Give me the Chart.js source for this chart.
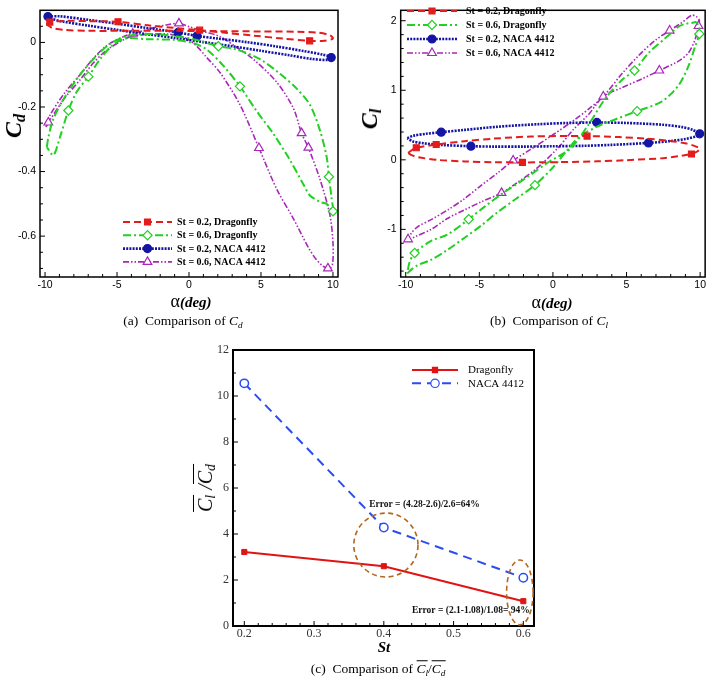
<!DOCTYPE html>
<html lang="en">
<head>
<meta charset="UTF-8">
<title>Cd, Cl and Cl/Cd - Dragonfly vs NACA 4412</title>
<script src="https://cdn.jsdelivr.net/npm/chart.js"></script>
<style>
    body {
        margin: 0;
        background: #fff;
    }

    #fig {
        position: relative;
        width: 708px;
        height: 677px;
        overflow: hidden;
        font-family: "Liberation Serif", "Times New Roman", serif;
        color: #000;
    }

    #fig canvas {
        position: absolute;
    }

    .lbl {
        position: absolute;
        white-space: nowrap;
        line-height: 1;
        transform: translate(-50%, -50%);
    }

    .rot {
        transform: translate(-50%, -50%) rotate(-90deg);
    }

    .lbl sub {
        font-size: 68%;
        vertical-align: -0.25em;
        line-height: 0;
    }

    .ov {
        display: inline-block;
        border-top: 1.2px solid #000;
        padding-top: 1px;
        line-height: 1;
    }

    .cap { font-size: 13.5px; }
    .axt { font-weight: bold; font-style: italic; }
</style>
</head>
<body>

<div id="fig">
    <canvas id="cdChart" width="345" height="300" style="left:0;top:0"></canvas>
    <canvas id="clChart" width="354" height="300" style="left:354px;top:0"></canvas>
    <canvas id="ratioChart" width="360" height="320" style="left:190px;top:330px"></canvas>

    <!-- axis titles and captions -->
    <div class="lbl rot axt" style="left:13px;top:126px;font-size:24px">C<sub>d</sub></div>
    <div class="lbl axt" style="left:191px;top:301px;font-size:15px"><span style="font-weight:normal;font-style:normal;font-size:18px">α</span>(deg)</div>
    <div class="lbl cap" style="left:183px;top:321px">(a)&nbsp; Comparison of <i>C<sub>d</sub></i></div>

    <div class="lbl rot axt" style="left:369px;top:119px;font-size:24px">C<sub>l</sub></div>
    <div class="lbl axt" style="left:552px;top:302px;font-size:15px"><span style="font-weight:normal;font-style:normal;font-size:18px">α</span>(deg)</div>
    <div class="lbl cap" style="left:549px;top:321px">(b)&nbsp; Comparison of <i>C<sub>l</sub></i></div>

    <div class="lbl rot" style="left:204px;top:488px;font-size:20px;font-style:italic"><span class="ov">C<sub>l</sub></span> /<span class="ov">C<sub>d</sub></span></div>
    <div class="lbl axt" style="left:384px;top:647px;font-size:15px">St</div>
    <div class="lbl cap" style="left:378px;top:668px">(c)&nbsp; Comparison of <span class="ov"><i>C<sub>l</sub></i></span>/<span class="ov"><i>C<sub>d</sub></i></span></div>
</div>

<script>
    // Tick labels
    const alphaTicks = [-10, -5, 0, 5, 10];
    const cdTicks = [-0.6, -0.4, -0.2, 0];
    const clTicks = [-1, 0, 1, 2];
    const stTicks = [0.2, 0.3, 0.4, 0.5, 0.6];
    const ratioTicks = [0, 2, 4, 6, 8, 10, 12];

    const loopNames = ['St = 0.2, Dragonfly', 'St = 0.6, Dragonfly', 'St = 0.2, NACA 4412', 'St = 0.6, NACA 4412'];

    // (a) drag coefficient loops, [alpha, Cd]
    const cdDfly02 = [[-9.9, 0.056], [-9.67, 0.063], [-8.5, 0.067], [-7, 0.066], [-4.93, 0.064], [-2.85, 0.053], [-1, 0.045],
        [0.74, 0.038], [2.5, 0.030], [4.5, 0.021], [6.5, 0.012], [8.38, 0.005], [9.4, 0.005], [10.0, 0.012], [9.8, 0.022],
        [9.0, 0.030], [7.5, 0.033], [5, 0.034], [2, 0.035], [-1, 0.036], [-4, 0.036], [-7, 0.036], [-8.7, 0.039],
        [-9.5, 0.045], [-9.9, 0.056]];
    const cdDfly06 = [[-9.88, -0.324], [-9.75, -0.29], [-9.45, -0.24], [-8.9, -0.19], [-8.2, -0.14], [-7.4, -0.09],
        [-6.5, -0.045], [-5.6, -0.008], [-4.7, 0.014], [-3.8, 0.024], [-2.5, 0.026], [-1, 0.02], [0.5, 0.008], [2.04, -0.012],
        [3.31, -0.022], [4.93, -0.052], [6.32, -0.097], [7.48, -0.143], [8.40, -0.193], [9.10, -0.273], [9.56, -0.354],
        [9.72, -0.416], [9.91, -0.484], [10.0, -0.523], [9.56, -0.50], [9.10, -0.494], [8.40, -0.474], [7.94, -0.439],
        [7.01, -0.364], [5.86, -0.283], [4.70, -0.213], [3.54, -0.136], [2.38, -0.072], [1.23, -0.022], [0.3, -0.002],
        [-1.09, 0.008], [-2.94, 0.010], [-4.33, 0.013], [-5.26, -0.007], [-6.18, -0.052], [-6.99, -0.106], [-7.80, -0.153],
        [-8.38, -0.211], [-8.96, -0.293], [-9.42, -0.349], [-9.88, -0.324]];
    const cdNaca02 = [[-9.8, 0.080], [-9, 0.081], [-7, 0.070], [-5, 0.058], [-3, 0.045], [-0.76, 0.031], [0.56, 0.020],
        [2, 0.012], [4, 0.001], [6, -0.012], [8, -0.027], [9.3, -0.038], [9.88, -0.047], [9.6, -0.054], [8.5, -0.051],
        [7, -0.040], [5, -0.026], [3, -0.012], [1, 0.001], [-1, 0.014], [-3, 0.026], [-5, 0.039], [-7, 0.052],
        [-8.8, 0.065], [-9.6, 0.074], [-9.8, 0.080]];
    const cdNaca06 = [[-9.93, -0.262], [-9.65, -0.225], [-8.61, -0.155], [-7.57, -0.100], [-6.65, -0.050], [-5.72, -0.010],
        [-4.56, 0.018], [-3.91, 0.027], [-2.5, 0.045], [-1.5, 0.055], [-0.7, 0.059], [0.07, 0.048], [1.0, 0.034],
        [2.15, 0.018], [3.3, -0.015], [4.47, -0.052], [6.09, -0.123], [7.24, -0.203], [7.82, -0.281], [8.29, -0.326],
        [9.10, -0.424], [9.79, -0.535], [10.0, -0.62], [9.98, -0.685], [9.8, -0.70], [9.65, -0.70], [9.3, -0.693],
        [8.8, -0.67], [8.29, -0.635], [7.24, -0.545], [6.09, -0.454], [4.86, -0.327], [3.54, -0.193], [2.15, -0.093],
        [1.2, -0.045], [0.5, -0.01], [-0.3, 0.015], [-1.5, 0.026], [-3, 0.024], [-3.91, 0.020], [-4.56, 0.008],
        [-5.72, -0.024], [-6.65, -0.064], [-7.57, -0.116], [-8.61, -0.171], [-9.77, -0.248], [-9.93, -0.262]];
    const cdMarks = [[1, 4, 7, 11], [13, 21, 23, 31, 40, 42], [0, 5, 6, 12], [7, 10, 18, 19, 25, 31, 45]];

    // (b) lift coefficient loops, [alpha, Cl]
    const clDfly02 = [[-9.84, 0.10], [-9.5, 0.152], [-9.28, 0.173], [-7.93, 0.22], [-6, 0.268], [-4, 0.305], [-1.5, 0.335],
        [2.32, 0.341], [4.5, 0.327], [6.4, 0.304], [8, 0.27], [9.07, 0.234], [9.6, 0.2], [9.97, 0.16], [9.8, 0.12],
        [9.41, 0.084], [8.5, 0.05], [7.5, 0.024], [5, -0.005], [3, -0.022], [0.5, -0.033], [-2.07, -0.037], [-4, -0.034],
        [-6, -0.023], [-7.8, -0.002], [-9.17, 0.038], [-9.6, 0.068], [-9.84, 0.10]];
    const clDfly06 = [[-9.89, -1.634], [-9.6, -1.575], [-9.21, -1.517], [-8.3, -1.44], [-7.2, -1.30], [-6.0, -1.12],
        [-4.9, -0.95], [-3.8, -0.76], [-2.5, -0.56], [-1.22, -0.364], [0, -0.11], [0.9, 0.12], [1.78, 0.328], [3.13, 0.49],
        [4.26, 0.584], [5.72, 0.70], [7.41, 0.84], [8.53, 1.07], [9.21, 1.35], [9.66, 1.63], [9.95, 1.81], [9.92, 1.92],
        [9.7, 1.98], [9.48, 1.97], [8.99, 1.955], [8.53, 1.915], [7.64, 1.75], [6.51, 1.54], [5.54, 1.284], [4.70, 1.15],
        [3.58, 0.888], [2.4, 0.5], [1.19, 0.164], [-0.39, -0.046], [-1.96, -0.28], [-3.31, -0.466], [-4.66, -0.676],
        [-5.72, -0.854], [-7.14, -1.073], [-8.27, -1.167], [-9.39, -1.34], [-9.75, -1.48], [-9.89, -1.634]];
    const clNaca02 = [[-9.89, 0.31], [-9.5, 0.345], [-8.6, 0.375], [-7.59, 0.397], [-6, 0.43], [-3.76, 0.476], [-1, 0.512],
        [1, 0.53], [2.99, 0.537], [5, 0.53], [7.5, 0.504], [8.8, 0.47], [9.5, 0.43], [9.97, 0.374], [9.75, 0.34],
        [9.0, 0.30], [8, 0.27], [6.49, 0.243], [4, 0.215], [2, 0.201], [0, 0.195], [-2, 0.19], [-4, 0.19], [-5.57, 0.196],
        [-7.5, 0.213], [-8.8, 0.238], [-9.5, 0.265], [-9.89, 0.31]];
    const clNaca06 = [[-9.96, -1.17], [-9.84, -1.143], [-9.6, -1.05], [-9.17, -0.96], [-8.27, -0.86], [-7.14, -0.72],
        [-6.01, -0.56], [-4.89, -0.37], [-3.76, -0.19], [-2.70, -0.01], [-1.51, 0.15], [0, 0.36], [1.5, 0.58], [2.6, 0.76],
        [3.42, 0.91], [4.70, 1.24], [5.83, 1.50], [6.96, 1.72], [7.93, 1.859], [8.6, 1.95], [9.1, 2.03], [9.43, 2.08],
        [9.75, 2.06], [9.95, 2.0], [9.89, 1.924], [9.66, 1.73], [9.21, 1.54], [8.53, 1.42], [7.23, 1.284], [6, 1.16],
        [4.6, 1.03], [3.42, 0.91], [2.45, 0.66], [1.32, 0.42], [0.43, 0.19], [-1.06, -0.116], [-2.41, -0.326],
        [-3.49, -0.476], [-4.89, -0.606], [-6, -0.72], [-7.14, -0.84], [-8.27, -1.0], [-9.3, -1.1], [-9.96, -1.17]];
    const clMarks = [[2, 3, 7, 15, 21], [9, 15, 20, 28, 37, 40], [3, 8, 13, 17, 23], [1, 9, 14, 18, 24, 28, 37]];

    // (c) mean Cl / mean Cd against Strouhal number
    const stValues = [0.2, 0.4, 0.6];
    const ratioDfly = [3.22, 2.6, 1.08];
    const ratioNaca = [10.55, 4.28, 2.1];

    const loopStyle = [
        { color: '#e31c1c', dash: [7, 4], width: 2, shape: 'rect', r: 4.2, fill: true },
        { color: '#22d022', dash: [8, 3, 2, 3], width: 2, shape: 'rectRot', r: 4.6, fill: false },
        { color: '#1515a5', dash: [2, 1.2], width: 2.6, shape: 'circle', r: 4, fill: true },
        { color: '#a826b8', dash: [6, 2, 1.5, 2, 1.5, 2], width: 1.6, shape: 'triangle', r: 5, fill: false }
    ];

    const serif = '"Liberation Serif", "Times New Roman", serif';
    const sans = '"Liberation Sans", Arial, sans-serif';

    function loopSets(loops, marks) {
        return loops.map((pts, i) => {
            const s = loopStyle[i];
            return {
                label: loopNames[i],
                data: pts.map(p => ({ x: p[0], y: p[1] })),
                showLine: true,
                tension: 0.3,
                borderColor: s.color,
                borderWidth: s.width,
                borderDash: s.dash,
                pointStyle: s.shape,
                pointRadius: ctx => marks[i].includes(ctx.dataIndex) ? s.r : 0,
                pointBackgroundColor: s.fill ? s.color : '#fff',
                pointBorderColor: s.color,
                pointBorderWidth: 1.2
            };
        });
    }

    function drawMark(ctx, shape, x, y, r, color, fill) {
        ctx.beginPath();
        if (shape === 'circle') {
            ctx.arc(x, y, r, 0, Math.PI * 2);
        } else if (shape === 'rect') {
            const h = r * Math.SQRT1_2;
            ctx.rect(x - h, y - h, 2 * h, 2 * h);
        } else if (shape === 'rectRot') {
            ctx.moveTo(x - r, y); ctx.lineTo(x, y - r); ctx.lineTo(x + r, y); ctx.lineTo(x, y + r); ctx.closePath();
        } else {
            ctx.moveTo(x, y - r); ctx.lineTo(x + r * 0.866, y + r * 0.5); ctx.lineTo(x - r * 0.866, y + r * 0.5); ctx.closePath();
        }
        ctx.setLineDash([]);
        ctx.fillStyle = fill ? color : '#fff';
        ctx.fill();
        ctx.strokeStyle = color;
        ctx.lineWidth = 1.2;
        ctx.stroke();
    }

    function tickRun(lo, hi, step) {
        const out = [];
        for (let k = Math.ceil(lo / step - 1e-9); k * step <= hi + 1e-9; k++) out.push(k * step);
        return out;
    }

    // inward ticks, frame, legend and notes
    function makeDecor(cfg) {
        return {
            id: 'decor',
            afterDatasetsDraw(chart) {
                const { ctx, chartArea: a, scales: { x, y } } = chart;
                ctx.save();
                ctx.strokeStyle = '#000';
                ctx.lineWidth = 1;
                ctx.setLineDash([]);
                const isMajor = (list, v) => list.some(t => Math.abs(t - v) < 1e-6);
                ctx.beginPath();
                tickRun(x.min, x.max, cfg.xMinor).forEach(v => {
                    const px = x.getPixelForValue(v);
                    ctx.moveTo(px, a.bottom);
                    ctx.lineTo(px, a.bottom - (isMajor(cfg.xMajor, v) ? 5 : 3));
                });
                tickRun(y.min, y.max, cfg.yMinor).forEach(v => {
                    const py = y.getPixelForValue(v);
                    ctx.moveTo(a.left, py);
                    ctx.lineTo(a.left + (isMajor(cfg.yMajor, v) ? 5 : 3), py);
                });
                ctx.stroke();

                ctx.lineWidth = cfg.frame;
                ctx.strokeRect(a.left, a.top, a.right - a.left, a.bottom - a.top);

                if (cfg.ellipses) {
                    ctx.strokeStyle = '#b5651d';
                    ctx.lineWidth = 1.6;
                    ctx.setLineDash([5, 3.5]);
                    cfg.ellipses.forEach(e => {
                        const cx = x.getPixelForValue(e.st), cy = y.getPixelForValue(e.v);
                        const rx = Math.abs(x.getPixelForValue(e.st + e.dst) - cx);
                        const ry = Math.abs(y.getPixelForValue(e.v + e.dv) - cy);
                        ctx.beginPath();
                        ctx.ellipse(cx, cy, rx, ry, 0, 0, Math.PI * 2);
                        ctx.stroke();
                    });
                    ctx.setLineDash([]);
                }
                if (cfg.notes) {
                    ctx.fillStyle = '#111';
                    ctx.font = 'bold 9.5px ' + serif;
                    ctx.textAlign = 'left';
                    ctx.textBaseline = 'middle';
                    cfg.notes.forEach(n => ctx.fillText(n.text, x.getPixelForValue(n.st), y.getPixelForValue(n.v)));
                }

                const k = cfg.key;
                chart.data.datasets.forEach((ds, i) => {
                    const ly = k.y0 + i * k.dy;
                    ctx.beginPath();
                    ctx.setLineDash(ds.borderDash || []);
                    ctx.strokeStyle = ds.borderColor;
                    ctx.lineWidth = ds.borderWidth;
                    ctx.moveTo(k.x0, ly);
                    ctx.lineTo(k.x1, ly);
                    ctx.stroke();
                    drawMark(ctx, ds.pointStyle, (k.x0 + k.x1) / 2, ly, k.marks[i].r, ds.borderColor, k.marks[i].fill);
                    ctx.fillStyle = '#000';
                    ctx.font = k.font;
                    ctx.textAlign = 'left';
                    ctx.textBaseline = 'middle';
                    ctx.fillText(ds.label, k.tx, ly + 0.5);
                });
                ctx.restore();
            }
        };
    }

    function linAxis(min, max, ticks, fmt, size, isX, font, color, pad) {
        return {
            type: 'linear',
            min: min,
            max: max,
            grid: { display: false, drawTicks: false },
            border: { display: false },
            afterBuildTicks: s => { s.ticks = ticks.map(v => ({ value: v })); },
            afterFit: s => { if (isX) s.height = size; else s.width = size; },
            ticks: { padding: pad, font: font, color: color, autoSkip: false, maxRotation: 0, callback: fmt }
        };
    }

    const tickFontAB = { family: sans, size: 10.5 };
    const loopKeyMarks = loopStyle.map(s => ({ r: s.r, fill: s.fill }));

    // (a) Cd
    new Chart(document.getElementById('cdChart'), {
        type: 'scatter',
        data: { datasets: loopSets([cdDfly02, cdDfly06, cdNaca02, cdNaca06], cdMarks) },
        options: {
            responsive: false, animation: false, events: [],
            layout: { padding: { top: 3, right: 7, left: 0, bottom: 0 } },
            plugins: { legend: { display: false }, tooltip: { enabled: false } },
            scales: {
                x: linAxis(-10.35, 10.35, alphaTicks, v => String(v), 23, true, tickFontAB, '#000', 2),
                y: linAxis(-0.7266, 0.0995, cdTicks, v => v === 0 ? '0' : v.toFixed(1), 40, false, tickFontAB, '#000', 4)
            }
        },
        plugins: [makeDecor({
            xMinor: 1, yMinor: 0.05, xMajor: alphaTicks, yMajor: cdTicks, frame: 1.5,
            key: { x0: 123, x1: 172, tx: 177, y0: 222, dy: 13.3, font: 'bold 10px ' + serif, marks: loopKeyMarks }
        })]
    });

    // (b) Cl
    new Chart(document.getElementById('clChart'), {
        type: 'scatter',
        data: { datasets: loopSets([clDfly02, clDfly06, clNaca02, clNaca06], clMarks) },
        options: {
            responsive: false, animation: false, events: [],
            layout: { padding: { top: 3, right: 1.5, left: 0, bottom: 0 } },
            plugins: { legend: { display: false }, tooltip: { enabled: false } },
            scales: {
                x: linAxis(-10.34, 10.34, alphaTicks, v => String(v), 23, true, tickFontAB, '#000', 2),
                y: linAxis(-1.685, 2.15, clTicks, v => String(v), 46.7, false, tickFontAB, '#000', 4)
            }
        },
        plugins: [makeDecor({
            xMinor: 1, yMinor: 0.2, xMajor: alphaTicks, yMajor: clTicks, frame: 1.5,
            key: { x0: 53, x1: 103, tx: 112, y0: 11, dy: 14, font: 'bold 10px ' + serif, marks: loopKeyMarks }
        })]
    });

    // (c) Cl/Cd ratio
    const tickFontC = { family: serif, size: 12 };
    new Chart(document.getElementById('ratioChart'), {
        type: 'scatter',
        data: {
            datasets: [
                {
                    label: 'Dragonfly',
                    data: stValues.map((s, i) => ({ x: s, y: ratioDfly[i] })),
                    showLine: true, borderColor: '#e01414', borderWidth: 2, borderDash: [],
                    pointStyle: 'rect', pointRadius: 3.6, pointBackgroundColor: '#e01414',
                    pointBorderColor: '#e01414', pointBorderWidth: 1
                },
                {
                    label: 'NACA 4412',
                    data: stValues.map((s, i) => ({ x: s, y: ratioNaca[i] })),
                    showLine: true, borderColor: '#2a4cf0', borderWidth: 2, borderDash: [9, 6],
                    pointStyle: 'circle', pointRadius: 4.2, pointBackgroundColor: '#fff',
                    pointBorderColor: '#2a4cf0', pointBorderWidth: 1.5
                }
            ]
        },
        options: {
            responsive: false, animation: false, events: [],
            layout: { padding: { top: 20, right: 16, left: 0, bottom: 0 } },
            plugins: { legend: { display: false }, tooltip: { enabled: false } },
            scales: {
                x: linAxis(0.1838, 0.6153, stTicks, v => v.toFixed(1), 24, true, tickFontC, '#333', 1),
                y: linAxis(0, 12, ratioTicks, v => String(v), 43, false, tickFontC, '#333', 4)
            }
        },
        plugins: [makeDecor({
            xMinor: 0.02, yMinor: 1, xMajor: stTicks, yMajor: ratioTicks, frame: 2,
            ellipses: [{ st: 0.403, v: 3.52, dst: 0.046, dv: 1.39 }, { st: 0.595, v: 1.46, dst: 0.019, dv: 1.41 }],
            notes: [{ text: 'Error = (4.28-2.6)/2.6=64%', st: 0.379, v: 5.29 },
                    { text: 'Error = (2.1-1.08)/1.08= 94%', st: 0.4404, v: 0.69 }],
            key: { x0: 222, x1: 268, tx: 278, y0: 40, dy: 13.3, font: '11px ' + serif,
                   marks: [{ r: 3.6, fill: true }, { r: 4.2, fill: false }] }
        })]
    });
</script>

</body>
</html>
